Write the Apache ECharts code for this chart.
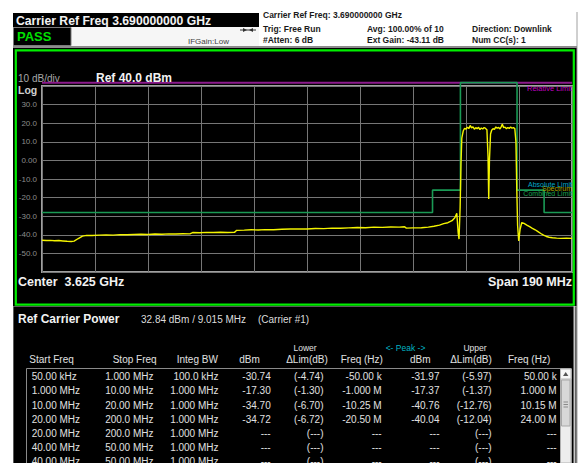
<!DOCTYPE html>
<html><head><meta charset="utf-8">
<script src="https://cdn.jsdelivr.net/npm/echarts@6/dist/echarts.min.js"></script>
<style>html,body{margin:0;padding:0;background:#fff;}#c{width:580px;height:463px;}</style>
</head><body><div id="c"></div>
<script>
// ---------- data ----------
const startMHz = 3530;
const stopMHz = 3720;
const divMHz = 19;
const yTicks = [-60, -50, -40, -30, -20, -10, 0, 10, 20, 30, 40];
const yTickLabels = ['', '-50.0', '-40.0', '-30.0', '-20.0', '-10.0', '0.00', '10.0', '20.0', '30.0', ''];

const traceFreqMHz = [
  3530.0, 3531.5, 3533.0, 3534.5, 3536.0, 3537.5, 3539.0, 3540.5, 3541.5, 3543.0, 3544.5, 3546.0,
  3548.0, 3550.5, 3553.0, 3555.5, 3558.0, 3560.5, 3563.0, 3565.5, 3568.0, 3570.5, 3573.0, 3575.5, 3578.0, 3580.5, 3583.0,
  3584.0, 3586.5, 3589.0, 3591.5, 3594.0, 3596.5, 3599.0,
  3599.8, 3602.5, 3605.0, 3607.5, 3610.0, 3613.0, 3616.0, 3619.0, 3622.0, 3625.0, 3628.0, 3631.0, 3634.0, 3637.0, 3640.0, 3643.0, 3646.0, 3649.0, 3652.0, 3655.0, 3658.0, 3660.0,
  3660.6, 3663.0, 3666.0, 3668.5, 3670.5, 3672.5, 3674.0, 3675.5, 3677.0, 3678.0, 3678.7, 3679.2, 3679.5, 3679.9, 3680.2, 3680.5,
  3681.0, 3681.5, 3682.0, 3682.5, 3683.0, 3683.5, 3684.0, 3684.5, 3685.0, 3685.5, 3686.0, 3686.5, 3687.0, 3687.5, 3688.0, 3688.5, 3689.0, 3689.5,
  3689.9, 3690.15, 3690.4, 3690.8,
  3691.2, 3691.7, 3692.2, 3692.7, 3693.2, 3693.7, 3694.2, 3694.7, 3695.0, 3695.5, 3696.0, 3696.5, 3697.0, 3697.5, 3698.0, 3698.5, 3699.0, 3699.5,
  3699.9, 3700.2, 3700.5, 3700.9, 3701.4, 3702.0, 3702.8, 3703.8, 3704.8, 3705.8, 3706.8, 3707.8, 3708.8, 3709.8, 3710.8, 3711.8, 3713.0, 3714.5, 3716.0, 3718.0, 3720.0
];
const traceDbm = [
  -42.9, -43.1, -43.0, -43.2, -43.1, -43.3, -43.5, -43.6, -43.4, -42.0, -40.7, -40.3,
  -40.4, -40.2, -40.1, -40.2, -39.9, -40.0, -39.8, -39.7, -39.8, -39.6, -39.7, -39.5, -39.6, -39.4, -39.5,
  -38.8, -38.9, -38.7, -38.8, -38.6, -38.8, -38.7,
  -37.6, -37.5, -37.3, -37.4, -37.2, -37.3, -37.0, -36.9, -36.8, -36.9, -36.6, -36.7, -36.4, -36.5, -36.3, -36.1, -36.2, -35.9, -36.0, -35.8, -35.9, -35.7,
  -36.4, -36.3, -36.2, -35.9, -35.4, -34.8, -34.0, -33.5, -32.4, -30.8, -28.4, -39.0, -42.3, -25.0, -2.0, 12.0,
  15.8, 17.3, 16.8, 17.9, 17.1, 18.8, 17.5, 18.1, 16.8, 17.6, 17.0, 17.8, 16.6, 17.4, 16.9, 17.7, 17.2, 16.5,
  2.0, -20.8, 0.0, 14.2,
  16.2, 17.1, 16.7, 18.0, 17.3, 17.7, 16.9, 18.3, 19.5, 17.6, 17.9, 17.0, 17.7, 17.2, 18.0, 17.3, 17.6, 17.1,
  10.0, -15.0, -35.0, -43.3, -37.0, -33.4, -33.9, -34.8, -35.6, -36.5, -37.3, -38.3, -39.3, -40.2, -40.9, -41.3, -41.6, -41.8, -41.9, -41.8, -41.9
];

const limitFreqMHz = [3530, 3670, 3670, 3680, 3680, 3700.3, 3700.3, 3710, 3710, 3720];
const limitDbm = [-28, -28, -16, -16, 41.8, 41.8, -16, -16, -28, -28];
const relLimitFreqMHz = [3530, 3720];
const relLimitDbm = [41.8, 41.8];

const colStart = ['50.00 kHz', '1.000 MHz', '10.00 MHz', '20.00 MHz', '20.00 MHz', '40.00 MHz', '40.00 MHz'];
const colStop = ['1.000 MHz', '10.00 MHz', '20.00 MHz', '200.0 MHz', '200.0 MHz', '50.00 MHz', '50.00 MHz'];
const colBW = ['100.0 kHz', '1.000 MHz', '1.000 MHz', '1.000 MHz', '1.000 MHz', '1.000 MHz', '1.000 MHz'];
const colDbm = ['-30.74', '-17.30', '-34.70', '-34.72', '---', '---', '---'];
const colLowDelta = ['(-4.74)', '(-1.30)', '(-6.70)', '(-6.72)', '(---)', '(---)', '(---)'];
const colLowFreq = ['-50.00 k', '-1.000 M', '-10.25 M', '-20.50 M', '---', '---', '---'];
const colPeakDbm = ['-31.97', '-17.37', '-40.76', '-40.04', '---', '---', '---'];
const colUpDelta = ['(-5.97)', '(-1.37)', '(-12.76)', '(-12.04)', '(---)', '(---)', '(---)'];
const colUpFreq = ['50.00 k', '1.000 M', '10.15 M', '24.00 M', '---', '---', '---'];

// ---------- build ----------
const FF = '"Liberation Sans", Arial, sans-serif';
const toPts = (fs, vs) => fs.map((f, i) => [f - startMHz, vs[i]]);

const G = [];
function rect(x, y, w, h, fill, stroke, lw, z) {
  G.push({type: 'rect', silent: true, z: z === undefined ? -10 : z, shape: {x, y, width: w, height: h},
    style: {fill: fill || 'none', stroke: stroke || 'none', lineWidth: lw || 1}});
}
function line(x1, y1, x2, y2, stroke, lw, z) {
  G.push({type: 'line', silent: true, z: z === undefined ? -5 : z, shape: {x1, y1, x2, y2}, style: {stroke, lineWidth: lw || 1}});
}
function txt(x, y, text, font, fill, align, z) {
  G.push({type: 'text', silent: true, z: z === undefined ? 50 : z, x, y,
    style: {text, font, fill, align: align || 'left', verticalAlign: 'middle',
      textAlign: align || 'left', textVerticalAlign: 'middle'}});
}

// top header
rect(13, 13, 246, 14, '#000');
txt(16, 20.5, 'Carrier Ref Freq 3.690000000 GHz', 'bold 12.2px ' + FF, '#f2f2f2');
rect(71, 27, 188, 19, '#f6f6f6');
rect(13.5, 27.5, 57.5, 18, '#000', '#7a7a7a', 1);
txt(17, 36.5, 'PASS', 'bold 13px ' + FF, '#00e000');
txt(188, 41, 'IFGain:Low', '8px ' + FF, '#404040');
line(240, 30, 256, 30, '#303030', 1);
G.push({type: 'polygon', silent: true, z: 5, shape: {points: [[243, 28], [247, 30], [243, 32]]}, style: {fill: '#303030'}});
G.push({type: 'polygon', silent: true, z: 5, shape: {points: [[253, 28], [249, 30], [253, 32]]}, style: {fill: '#303030'}});
const infoFont = 'bold 8.5px ' + FF;
txt(263, 15, 'Carrier Ref Freq: 3.690000000 GHz', infoFont, '#1a1a1a');
txt(263, 28.5, 'Trig: Free Run', infoFont, '#1a1a1a');
txt(263, 40, '#Atten: 6 dB', infoFont, '#1a1a1a');
txt(367, 28.5, 'Avg: 100.00% of 10', infoFont, '#1a1a1a');
txt(367, 40, 'Ext Gain: -43.11 dB', infoFont, '#1a1a1a');
txt(472, 28.5, 'Direction: Downlink', infoFont, '#1a1a1a');
txt(472, 40, 'Num CC(s): 1', infoFont, '#1a1a1a');
line(577, 12, 577, 463, '#a0a0a0', 1, -6);
line(13, 47, 577, 47, '#8c8c8c', 2, -6);

// graph panel
rect(13, 48, 564, 258, '#000', null, 1, -20);
rect(15.8, 50.3, 558, 254.4, null, '#00ee00', 2.2, 20);
txt(18, 78.5, '10 dB/div', '10px ' + FF, '#a8a8a8', 'left', 1);
txt(18, 89.5, 'Log', 'bold 10.5px ' + FF, '#cfcfcf', 'left', 1);
txt(96, 77.5, 'Ref 40.0 dBm', 'bold 12px ' + FF, '#f2f2f2');
txt(18, 282, 'Center  3.625 GHz', 'bold 12.5px ' + FF, '#f2f2f2');
txt(572, 282, 'Span 190 MHz', 'bold 12.5px ' + FF, '#f2f2f2', 'right');
txt(572, 88.5, 'Relative Limit', '7.5px ' + FF, '#c000c0', 'right');
txt(572, 184.5, 'Absolute Limit', '7px ' + FF, '#00a8c8', 'right');
txt(572, 188.5, 'Spectrum', '7px ' + FF, '#a8a800', 'right', 49);
txt(572, 193, 'Combined Limit', '7px ' + FF, '#18a050', 'right');

// bottom panel
rect(13.5, 306.5, 563, 160, '#000', '#5a5a5a', 1, -20);
line(574.5, 306, 574.5, 463, '#c8c8c8', 2, -4);
txt(18, 319, 'Ref Carrier Power', 'bold 12px ' + FF, '#f2f2f2');
txt(141, 319.5, '32.84 dBm / 9.015 MHz', '10px ' + FF, '#dcdcdc');
txt(258, 319.5, '(Carrier #1)', '10px ' + FF, '#dcdcdc');
const hf = '10px ' + FF, hc = '#e0e0e0';
txt(29.3, 359.5, 'Start Freq', hf, hc);
txt(112.7, 359.5, 'Stop Freq', hf, hc);
txt(176.7, 359.5, 'Integ BW', hf, hc);
txt(239.3, 359.5, 'dBm', hf, hc);
txt(305, 348, 'Lower', '8.5px ' + FF, hc, 'center');
txt(307, 359.5, 'ΔLim(dB)', hf, hc, 'center');
txt(340.7, 359.5, 'Freq (Hz)', hf, hc);
txt(405.5, 348, '<- Peak ->', '8.5px ' + FF, '#00b4c4', 'center');
txt(410, 359.5, 'dBm', hf, hc);
txt(475, 348, 'Upper', '8.5px ' + FF, hc, 'center');
txt(471, 359.5, 'ΔLim(dB)', hf, hc, 'center');
txt(508, 359.5, 'Freq (Hz)', hf, hc);
rect(26.5, 368.5, 545, 100, null, '#8a8a8a', 1, -4);
// scrollbar
rect(560.5, 369, 10.5, 94, '#ededed', '#b0b0b0', 1, -3);
rect(560.5, 369, 10.5, 10, '#f8f8f8', '#b8b8b8', 1, -2);
G.push({type: 'polygon', silent: true, z: 5, shape: {points: [[565.7, 372], [563, 376], [568.4, 376]]}, style: {fill: '#555'}});
rect(561.5, 380, 8.5, 46, '#d8d8d8', '#a8a8a8', 1, -2);
line(563.5, 402, 568, 402, '#8a8a8a', 1, 5);
line(563.5, 404.5, 568, 404.5, '#8a8a8a', 1, 5);
line(563.5, 407, 568, 407, '#8a8a8a', 1, 5);
const rowY0 = 376.7, rowDy = 14.2, rf = '10px ' + FF;
colStart.forEach((_, i) => {
  const y = rowY0 + i * rowDy;
  txt(31.7, y, colStart[i], rf, hc);
  txt(153.5, y, colStop[i], rf, hc, 'right');
  txt(218.5, y, colBW[i], rf, hc, 'right');
  txt(270.7, y, colDbm[i], rf, hc, 'right');
  txt(323.5, y, colLowDelta[i], rf, hc, 'right');
  txt(381.7, y, colLowFreq[i], rf, hc, 'right');
  txt(439.5, y, colPeakDbm[i], rf, hc, 'right');
  txt(491.7, y, colUpDelta[i], rf, hc, 'right');
  txt(556.7, y, colUpFreq[i], rf, hc, 'right');
});

const chart = echarts.init(document.getElementById('c'), null, {renderer: 'svg'});
chart.setOption({
  backgroundColor: '#ffffff',
  animation: false,
  grid: {left: 42, top: 86, width: 530, height: 186, show: true, borderColor: '#a0a0a0', borderWidth: 2, backgroundColor: 'transparent'},
  xAxis: {
    type: 'value', min: 0, max: stopMHz - startMHz, interval: divMHz,
    axisLine: {show: false}, axisTick: {show: false}, axisLabel: {show: false},
    splitLine: {show: true, lineStyle: {color: '#767676', width: 1}}
  },
  yAxis: {
    type: 'value', min: yTicks[0], max: yTicks[yTicks.length - 1], interval: 10,
    axisLine: {show: false}, axisTick: {show: false},
    axisLabel: {color: '#8c8c8c', fontSize: 8, fontFamily: FF, margin: 5,
      formatter: v => yTickLabels[yTicks.indexOf(Math.round(v))] || ''},
    splitLine: {show: true, lineStyle: {color: '#767676', width: 1}}
  },
  graphic: {elements: G},
  series: [
    {type: 'line', data: toPts(relLimitFreqMHz, relLimitDbm), symbol: 'none', clip: false, z: 3,
      lineStyle: {color: '#8c1a8c', width: 2}, silent: true},
    {type: 'line', data: toPts(limitFreqMHz, limitDbm), symbol: 'none', clip: false, z: 4,
      lineStyle: {color: '#1a9a55', width: 1.6}, silent: true},
    {type: 'line', data: toPts(traceFreqMHz, traceDbm), symbol: 'none', clip: false, z: 5,
      lineStyle: {color: '#f4f400', width: 1.4}, silent: true}
  ]
});
</script>
</body></html>
